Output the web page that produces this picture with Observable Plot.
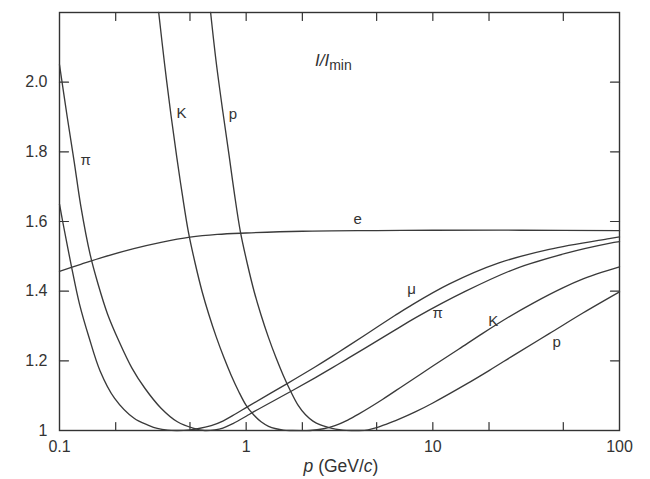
<!DOCTYPE html>
<html>
<head>
<meta charset="utf-8">
<script src="https://cdn.jsdelivr.net/npm/d3@7"></script>
<script src="https://cdn.jsdelivr.net/npm/@observablehq/plot@0.6"></script>
<style>
html, body { margin: 0; padding: 0; background: #fff; }
#chart { width: 650px; height: 479px; }
</style>
</head>
<body>
<div id="chart"></div>
<script>
// Momentum p (GeV/c) and relative ionization I/Imin
const eP  = [0.1, 0.13, 0.17, 0.25, 0.35, 0.5, 0.7, 1, 2, 5, 10, 30, 100];
const eI  = [1.457, 1.477, 1.497, 1.522, 1.540, 1.555, 1.563, 1.567, 1.572, 1.574, 1.575, 1.575, 1.574];

const muP = [0.1, 0.104, 0.116, 0.128, 0.144, 0.165, 0.197, 0.251, 0.3, 0.334, 0.38, 0.43, 0.5, 0.55, 0.65, 0.75, 0.88, 1.03, 1.65, 2.35, 2.87, 3.46, 4.36, 6.26, 7.43, 12.2, 22.6, 42, 88, 100];
const muI = [1.65, 1.60, 1.47, 1.363, 1.267, 1.171, 1.093, 1.035, 1.015, 1.006, 1.001, 1.0, 1.002, 1.005, 1.014, 1.027, 1.048, 1.07, 1.134, 1.183, 1.212, 1.24, 1.275, 1.33, 1.355, 1.42, 1.481, 1.52, 1.551, 1.556];

const piP = [0.1, 0.11, 0.12, 0.13, 0.146, 0.161, 0.181, 0.208, 0.244, 0.286, 0.35, 0.428, 0.525, 0.6, 0.68, 0.75, 0.85, 1.0, 1.1, 1.8, 2.35, 2.87, 3.46, 4.36, 6.26, 8.1, 15, 27.9, 52, 88, 100];
const piI = [2.05, 1.90, 1.77, 1.645, 1.505, 1.42, 1.334, 1.257, 1.18, 1.122, 1.064, 1.025, 1.006, 1.0, 1.002, 1.007, 1.02, 1.041, 1.054, 1.117, 1.152, 1.179, 1.205, 1.237, 1.288, 1.324, 1.40, 1.465, 1.509, 1.537, 1.542];

const kP  = [0.34, 0.365, 0.395, 0.425, 0.455, 0.49, 0.534, 0.582, 0.631, 0.692, 0.759, 0.832, 0.912, 1.0, 1.096, 1.202, 1.318, 1.445, 1.585, 1.738, 2.2, 2.6, 2.99, 3.5, 4, 5.37, 7, 10, 13.8, 18.5, 25, 34.3, 50, 63.8, 80, 100];
const kI  = [2.2, 2.055, 1.908, 1.784, 1.677, 1.571, 1.478, 1.397, 1.333, 1.268, 1.21, 1.158, 1.112, 1.072, 1.045, 1.025, 1.012, 1.005, 1.001, 1.0, 1.0, 1.005, 1.014, 1.03, 1.047, 1.089, 1.13, 1.185, 1.234, 1.279, 1.323, 1.365, 1.41, 1.435, 1.454, 1.47];

const prP = [0.645, 0.69, 0.75, 0.81, 0.865, 0.931, 1.015, 1.106, 1.199, 1.315, 1.442, 1.581, 1.733, 1.9, 2.08, 2.28, 2.5, 2.75, 3.01, 3.3, 3.7, 4.0, 4.5, 5.0, 5.5, 6.5, 8.1, 10, 15.1, 20, 27.9, 42, 64, 100];
const prI = [2.2, 2.06, 1.915, 1.79, 1.68, 1.571, 1.478, 1.397, 1.333, 1.268, 1.21, 1.158, 1.112, 1.072, 1.045, 1.027, 1.016, 1.009, 1.004, 1.001, 1.0, 1.0, 1.002, 1.008, 1.016, 1.031, 1.054, 1.079, 1.133, 1.172, 1.22, 1.278, 1.338, 1.398];

// Curve labels (text, and the (p, I/Imin) point where each sits)
const labelText = ["π", "K", "p", "e", "μ", "π", "K", "p"];
const labelP    = [0.138, 0.45, 0.85, 3.96, 7.7, 10.6, 21.1, 46];
const labelI    = [1.775, 1.91, 1.907, 1.606, 1.405, 1.336, 1.313, 1.253];

// Axes
const xDomain = [0.1, 100];
const yDomain = [1, 2.2];
const xMinorTicks = [0.2, 0.5, 1, 2, 5, 10, 20, 50];
const xTickLabels = [0.1, 1, 10, 100];
const yInnerTicks = [1.2, 1.4, 1.6, 1.8, 2.0];
const yTickLabels = [1, 1.2, 1.4, 1.6, 1.8, 2.0];
const titleP = 2.35, titleI = 2.045;

const series = [
  {name: "e", p: eP, v: eI},
  {name: "mu", p: muP, v: muI},
  {name: "pi", p: piP, v: piI},
  {name: "K", p: kP, v: kI},
  {name: "p", p: prP, v: prI}
];
const rows = series.flatMap(s => s.p.map((p, i) => ({curve: s.name, p, v: s.v[i]})));
const labels = labelText.map((t, i) => ({t, p: labelP[i], v: labelI[i]}));

const ink = "#333";
const lineInk = "#3a3a3a";
const font = "'Liberation Sans', Arial, sans-serif";
const tickShape = {draw(context, l) { context.moveTo(0, 0); context.lineTo(0, -l); }};
const tickStyle = {shape: tickShape, anchor: "start", stroke: ink, strokeWidth: 1.2};

const plot = Plot.plot({
  width: 650,
  height: 479,
  marginLeft: 59,
  marginRight: 31,
  marginTop: 12,
  marginBottom: 49,
  x: {type: "log", domain: xDomain},
  y: {domain: yDomain},
  style: {fontFamily: font, color: ink, background: "#fff"},
  marks: [
    Plot.frame({stroke: ink, strokeWidth: 1.4}),
    // inward ticks on all four sides
    Plot.vector(xMinorTicks, {x: d => d, y: () => yDomain[0], length: 8, rotate: 0, ...tickStyle}),
    Plot.vector(xMinorTicks, {x: d => d, y: () => yDomain[1], length: 8, rotate: 180, ...tickStyle}),
    Plot.vector(yInnerTicks, {x: () => xDomain[0], y: d => d, length: 9, rotate: 90, ...tickStyle}),
    Plot.vector(yInnerTicks, {x: () => xDomain[1], y: d => d, length: 9, rotate: -90, ...tickStyle}),
    // tick labels
    Plot.axisX(xTickLabels, {anchor: "bottom", tickSize: 0, tickPadding: 10, tickFormat: d => String(d), label: null, fontSize: 16, fill: ink}),
    Plot.axisY(yTickLabels, {anchor: "left", tickSize: 0, tickPadding: 12, tickFormat: d => d === 1 ? "1" : d.toFixed(1), label: null, fontSize: 16, fill: ink}),
    // curves
    Plot.line(rows, {x: "p", y: "v", z: "curve", curve: "catmull-rom", stroke: lineInk, strokeWidth: 1.35}),
    Plot.text(labels, {x: "p", y: "v", text: "t", fontSize: 15, fill: ink})
  ]
});

document.getElementById("chart").appendChild(plot);

// Title I/Imin and axis label with italics / subscript
const svg = d3.select(plot);
const xs = plot.scale("x"), ys = plot.scale("y");
const t = svg.append("text")
  .attr("x", xs.apply(titleP)).attr("y", ys.apply(titleI))
  .attr("text-anchor", "start")
  .attr("fill", ink).attr("font-size", 17)
  .attr("font-family", font);
t.append("tspan").attr("font-style", "italic").text("I");
t.append("tspan").attr("font-style", "italic").text("/");
t.append("tspan").attr("font-style", "italic").text("I");
t.append("tspan").attr("font-size", 14).attr("dy", 4).text("min");

const xr = xs.range;
const a = svg.append("text")
  .attr("x", (xr[0] + xr[1]) / 2 + 2).attr("y", 472)
  .attr("text-anchor", "middle")
  .attr("fill", ink).attr("font-size", 17.5)
  .attr("font-family", font);
a.append("tspan").attr("font-style", "italic").text("p");
a.append("tspan").text(" (GeV/");
a.append("tspan").attr("font-style", "italic").text("c");
a.append("tspan").text(")");
</script>
</body>
</html>
